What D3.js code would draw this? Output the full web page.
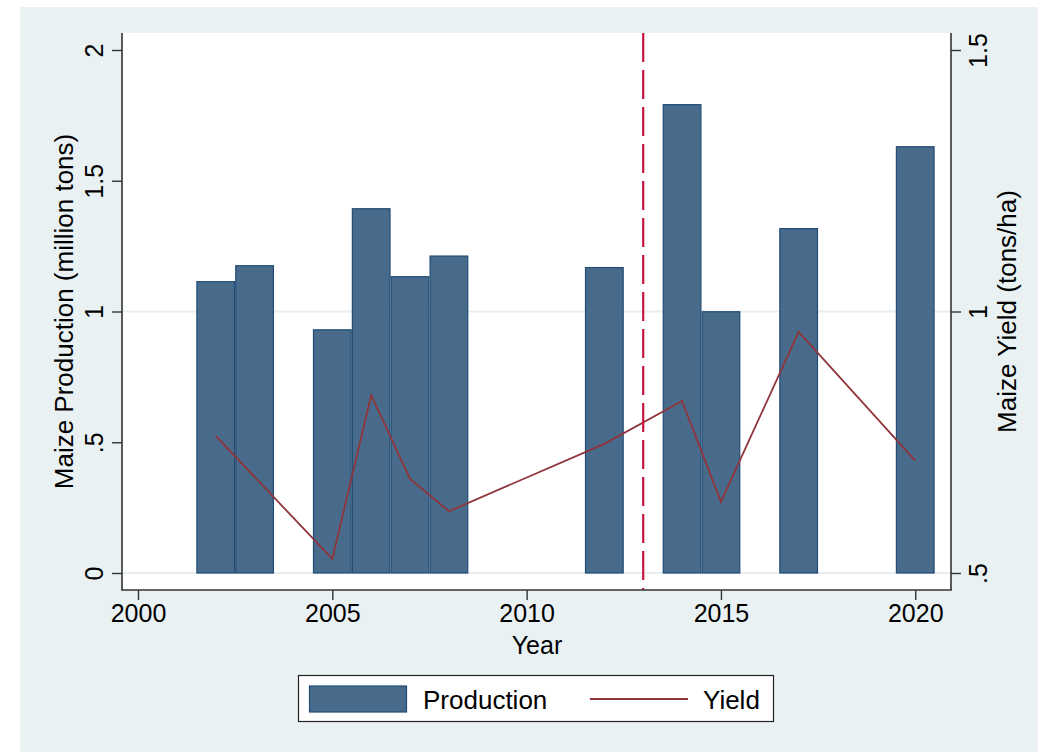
<!DOCTYPE html>
<html><head><meta charset="utf-8">
<script src="https://cdn.jsdelivr.net/npm/d3@7"></script>
<style>body{margin:0;background:#fff}svg{display:block;font-family:"Liberation Sans",Arial,sans-serif}</style>
</head><body>
<svg id="c" width="1038" height="752"></svg>
<script>
const years = [2002, 2003, 2005, 2006, 2007, 2008, 2012, 2014, 2015, 2017, 2020];
const production = [1.114, 1.175, 0.930, 1.393, 1.133, 1.212, 1.168, 1.791, 0.999, 1.317, 1.630];
const yieldVals = [0.762, 0.527, 0.840, 0.680, 0.618, 0.747, 0.829, 0.636, 0.961, 0.715];
const yieldYears = [2002, 2005, 2006, 2007, 2008, 2012, 2014, 2015, 2017, 2020];
const xTicks = [2000, 2005, 2010, 2015, 2020];
const yLeftTicks = [0, 0.5, 1, 1.5, 2];
const yLeftTickLabels = ["0", ".5", "1", "1.5", "2"];
const yRightTicks = [0.5, 1, 1.5];
const yRightTickLabels = [".5", "1", "1.5"];
const gridTicks = [0, 1];
const policyYear = 2013;
const legendLabels = ["Production", "Yield"];

const svg = d3.select("#c");
const L = 122, R = 951, T = 33, B = 590;
const barFill = "#486b8c", barStroke = "#1f4b74", lineCol = "#90353b", bg = "#e9f1f3";

svg.append("rect").attr("x", 20).attr("y", 7).attr("width", 1018).attr("height", 745).attr("fill", bg);
svg.append("rect").attr("x", L).attr("y", T).attr("width", R - L).attr("height", B - T).attr("fill", "#fff");

const x = d3.scaleLinear().domain([1999.588, 2020.92]).range([L, R]);
const yL = d3.scaleLinear().domain([0, 2]).range([573, 50]);
const yR = d3.scaleLinear().domain([0.5, 1.5]).range([573, 50]);

// grid
svg.append("g").selectAll("line").data(gridTicks).join("line")
  .attr("x1", L).attr("x2", R).attr("y1", d => yL(d)).attr("y2", d => yL(d))
  .attr("stroke", "#e6eef1").attr("stroke-width", 2);

// bars
const bw = x(2001) - x(2000);
svg.append("g").selectAll("rect").data(years.map((y, i) => ({y, v: production[i]}))).join("rect")
  .attr("x", d => x(d.y) - bw / 2 + 0.6).attr("width", bw - 1.2)
  .attr("y", d => yL(d.v)).attr("height", d => yL(0) - yL(d.v))
  .attr("fill", barFill).attr("stroke", barStroke).attr("stroke-width", 1.2);

// yield line
const line = d3.line().x(d => x(d.y)).y(d => yR(d.v));
svg.append("path").datum(yieldYears.map((y, i) => ({y, v: yieldVals[i]})))
  .attr("d", line).attr("fill", "none").attr("stroke", lineCol).attr("stroke-width", 1.8);

// dashed vertical line
svg.append("line").attr("x1", x(policyYear)).attr("x2", x(policyYear)).attr("y1", T).attr("y2", B)
  .attr("stroke", "#c8143f").attr("stroke-width", 2.2).attr("stroke-dasharray", "29,8");

// axes
const axCol = "#333";
const gx = svg.append("g").attr("transform", `translate(0,${B})`)
  .call(d3.axisBottom(x).tickValues(xTicks).tickFormat(d3.format("d")).tickSize(10).tickPadding(6));
const gl = svg.append("g").attr("transform", `translate(${L},0)`)
  .call(d3.axisLeft(yL).tickValues(yLeftTicks).tickFormat((d, i) => yLeftTickLabels[i]).tickSize(10).tickPadding(6));
const gr = svg.append("g").attr("transform", `translate(${R},0)`)
  .call(d3.axisRight(yR).tickValues(yRightTicks).tickFormat((d, i) => yRightTickLabels[i]).tickSize(10).tickPadding(6));
[gx, gl, gr].forEach(g => {
  g.select(".domain").remove();
  g.selectAll(".tick line").attr("stroke", axCol).attr("stroke-width", 1.4);
  g.selectAll("text").attr("fill", "#000").style("font-size", "25px").style("font-family", '"Liberation Sans",Arial,sans-serif');
});
gx.selectAll("text").attr("dy", null).attr("y", 32);
gl.selectAll(".tick text").attr("x", null).attr("dy", null)
  .attr("text-anchor", "middle").attr("transform", "translate(-19,0) rotate(-90)").attr("y", 0);
gr.selectAll(".tick text").attr("x", null).attr("dy", null)
  .attr("text-anchor", "middle").attr("transform", "translate(36,0) rotate(-90)").attr("y", 0);

svg.append("line").attr("x1", L).attr("x2", L).attr("y1", T).attr("y2", B).attr("stroke", axCol).attr("stroke-width", 1.6);
svg.append("line").attr("x1", R).attr("x2", R).attr("y1", T).attr("y2", B).attr("stroke", axCol).attr("stroke-width", 1.6);
svg.append("line").attr("x1", L - 0.8).attr("x2", R + 0.8).attr("y1", B).attr("y2", B).attr("stroke", axCol).attr("stroke-width", 1.6);

// titles
const cy = (T + B) / 2;
svg.append("text").attr("transform", `translate(73,${cy}) rotate(-90)`).attr("text-anchor", "middle")
  .style("font-size", "26px").text("Maize Production (million tons)");
svg.append("text").attr("transform", `translate(1016,${cy}) rotate(-90)`).attr("text-anchor", "middle")
  .style("font-size", "26px").text("Maize Yield (tons/ha)");
svg.append("text").attr("x", (L + R) / 2 + 0.5).attr("y", 654).attr("text-anchor", "middle")
  .style("font-size", "25px").text("Year");

// legend
const lg = svg.append("g");
lg.append("rect").attr("x", 298.5).attr("y", 675.5).attr("width", 475).attr("height", 46)
  .attr("fill", "#fff").attr("stroke", "#222").attr("stroke-width", 1.2);
lg.append("rect").attr("x", 309.5).attr("y", 686).attr("width", 97).attr("height", 26)
  .attr("fill", barFill).attr("stroke", barStroke).attr("stroke-width", 1.2);
lg.append("text").attr("x", 423).attr("y", 709).style("font-size", "26px").text(legendLabels[0]);
lg.append("line").attr("x1", 590).attr("x2", 688).attr("y1", 699).attr("y2", 699)
  .attr("stroke", lineCol).attr("stroke-width", 2);
lg.append("text").attr("x", 703).attr("y", 709).style("font-size", "26px").text(legendLabels[1]);
</script>
</body></html>
